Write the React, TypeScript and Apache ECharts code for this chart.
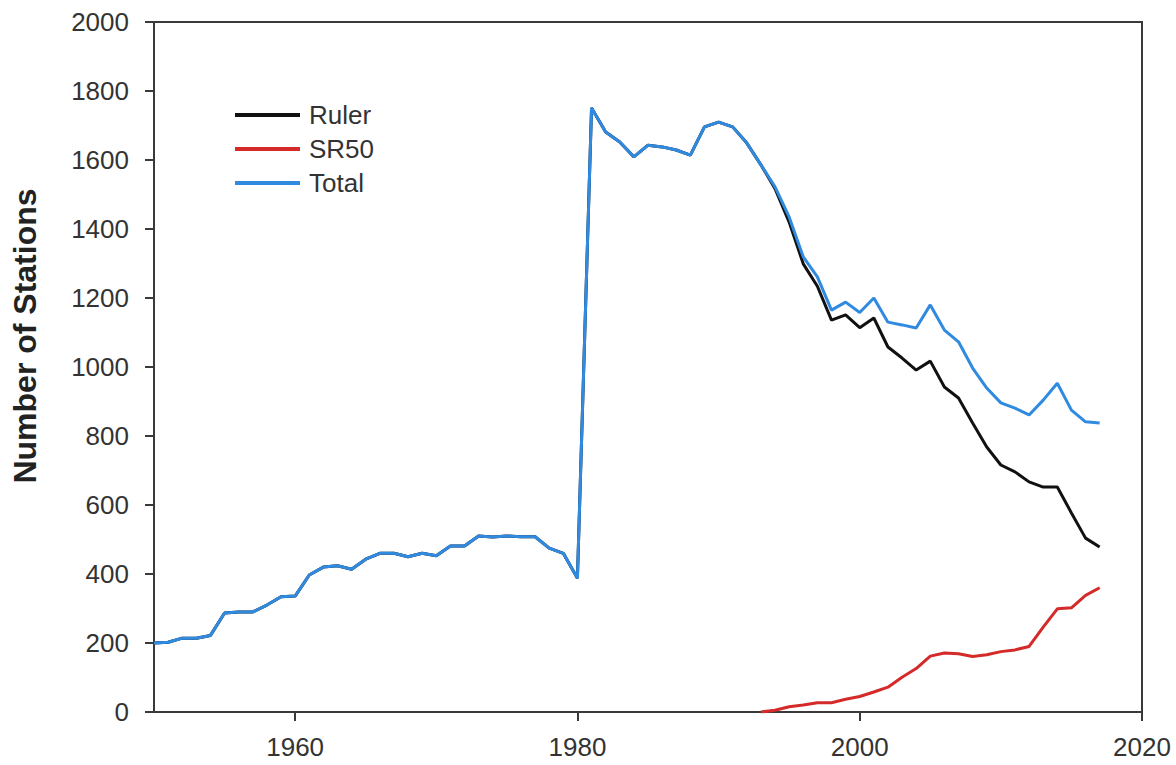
import React, { useEffect, useRef } from "react";
import * as echarts from "echarts";

const years = [
  1950, 1951, 1952, 1953, 1954, 1955, 1956, 1957, 1958, 1959,
  1960, 1961, 1962, 1963, 1964, 1965, 1966, 1967, 1968, 1969,
  1970, 1971, 1972, 1973, 1974, 1975, 1976, 1977, 1978, 1979,
  1980, 1981, 1982, 1983, 1984, 1985, 1986, 1987, 1988, 1989,
  1990, 1991, 1992, 1993, 1994, 1995, 1996, 1997, 1998, 1999,
  2000, 2001, 2002, 2003, 2004, 2005, 2006, 2007, 2008, 2009,
  2010, 2011, 2012, 2013, 2014, 2015, 2016, 2017,
];

const total = [
  200, 202, 214, 214, 222, 287, 290, 290, 310, 334,
  336, 397, 420, 424, 414, 443, 460, 460, 450, 460,
  453, 481, 481, 510, 507, 510, 508, 508, 475, 460,
  388, 1751, 1681, 1652, 1609, 1643, 1638, 1629, 1614, 1696,
  1710, 1696, 1649, 1586, 1522, 1435, 1319, 1261, 1165, 1188,
  1158, 1200, 1130, 1122, 1113, 1180, 1107, 1073, 997, 939,
  896, 881, 861, 904, 953, 875, 841, 838,
];

const ruler = [
  200, 202, 214, 214, 222, 287, 290, 290, 310, 334,
  336, 397, 420, 424, 414, 443, 460, 460, 450, 460,
  453, 481, 481, 510, 507, 510, 508, 508, 475, 460,
  388, 1751, 1681, 1652, 1609, 1643, 1638, 1629, 1614, 1696,
  1710, 1696, 1649, 1586, 1517, 1420, 1299, 1234, 1136, 1151,
  1114, 1142, 1058, 1026, 991, 1017, 942, 910, 838, 768,
  716, 696, 667, 652, 652, 577, 504, 478,
];

const sr50Years = [
  1993, 1994, 1995, 1996, 1997, 1998, 1999, 2000, 2001, 2002,
  2003, 2004, 2005, 2006, 2007, 2008, 2009, 2010, 2011, 2012,
  2013, 2014, 2015, 2016, 2017,
];

const sr50 = [
  0, 5, 15, 20, 27, 27, 37, 45, 58, 72,
  101, 126, 162, 171, 169, 161, 166, 175, 180, 190,
  246, 299, 302, 338, 360,
];

const xTickValues = [1960, 1980, 2000, 2020];
const xRange = { min: 1950, max: 2020 };
const yTicks = { min: 0, max: 2000, interval: 200 };

const FONT = "'Liberation Sans', Arial, sans-serif";
const TEXT = "#333333";
const AXIS = "#3a3a3a";

export default function App() {
  const ref = useRef<HTMLDivElement>(null);

  useEffect(() => {
    document.body.style.margin = "0";
    if (!ref.current) return;
    const chart = echarts.init(ref.current, null, { renderer: "svg" });

    const pair = (xs: number[], vs: number[]) => xs.map((x, i) => [x, vs[i]]);

    chart.setOption({
      animation: false,
      backgroundColor: "#ffffff",
      textStyle: { fontFamily: FONT },
      grid: {
        left: 154,
        right: 34,
        top: 22,
        bottom: 53,
        show: true,
        borderColor: AXIS,
        borderWidth: 2,
        backgroundColor: "transparent",
      },
      legend: {
        orient: "vertical",
        left: 230,
        top: 97,
        itemWidth: 65,
        itemHeight: 4,
        itemGap: 8,
        icon: "rect",
        textStyle: { fontSize: 26, color: TEXT, fontFamily: FONT, padding: [0, 0, 0, 4] },
        data: ["Ruler", "SR50", "Total"],
      },
      graphic: [
        {
          type: "text",
          x: 25,
          y: 336,
          rotation: Math.PI / 2,
          style: {
            text: "Number of Stations",
            fontFamily: FONT,
            fontWeight: "bold",
            fontSize: 32,
            fill: "#222222",
            align: "center",
            verticalAlign: "middle",
          },
        },
      ],
      xAxis: {
        type: "value",
        min: xRange.min,
        max: xRange.max,
        axisLine: { show: true, lineStyle: { color: AXIS, width: 2 } },
        axisTick: {
          show: true,
          inside: false,
          length: 9,
          customValues: xTickValues,
          lineStyle: { color: AXIS, width: 2 },
        },
        axisLabel: {
          fontSize: 26,
          color: TEXT,
          margin: 22,
          fontFamily: FONT,
          customValues: xTickValues,
          formatter: (v: number) => String(v),
        },
        splitLine: { show: false },
      },
      yAxis: {
        type: "value",
        min: yTicks.min,
        max: yTicks.max,
        interval: yTicks.interval,
        axisLine: { show: true, lineStyle: { color: AXIS, width: 2 } },
        axisTick: { show: true, inside: false, length: 9, lineStyle: { color: AXIS, width: 2 } },
        axisLabel: {
          fontSize: 26,
          color: TEXT,
          margin: 25,
          fontFamily: FONT,
          formatter: (v: number) => String(v),
        },
        splitLine: { show: false },
      },
      series: [
        {
          name: "Ruler",
          type: "line",
          data: pair(years, ruler),
          showSymbol: false,
          lineStyle: { color: "#111111", width: 3 },
          itemStyle: { color: "#111111" },
          z: 2,
        },
        {
          name: "SR50",
          type: "line",
          data: pair(sr50Years, sr50),
          showSymbol: false,
          lineStyle: { color: "#d42a2a", width: 3 },
          itemStyle: { color: "#d42a2a" },
          z: 3,
        },
        {
          name: "Total",
          type: "line",
          data: pair(years, total),
          showSymbol: false,
          lineStyle: { color: "#2f8ae0", width: 3 },
          itemStyle: { color: "#2f8ae0" },
          z: 4,
        },
      ],
    });

    return () => chart.dispose();
  }, []);

  return <div ref={ref} style={{ width: 1176, height: 765 }} />;
}
